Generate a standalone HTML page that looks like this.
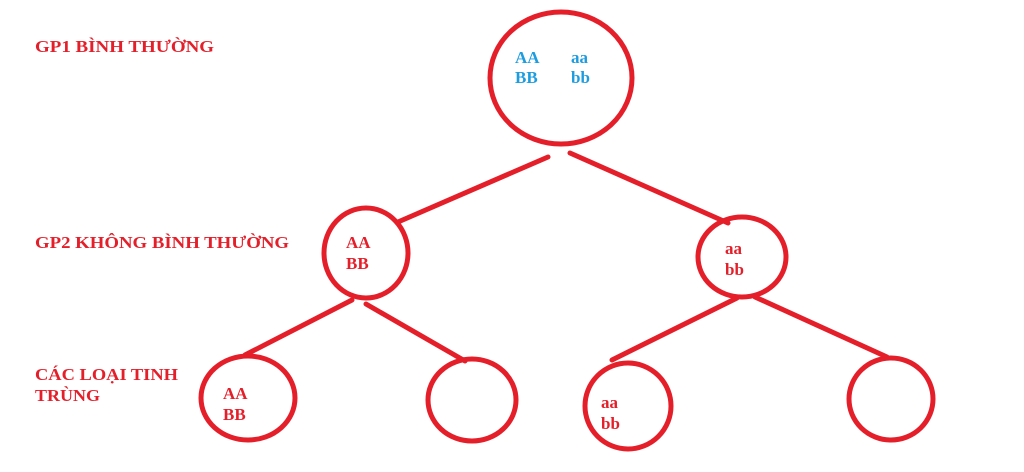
<!DOCTYPE html>
<html><head><meta charset="utf-8"><style>
html,body{margin:0;padding:0;background:#fff;width:1024px;height:472px;overflow:hidden}
text{font-family:"Liberation Serif",serif;font-weight:bold;font-size:17px}
</style></head><body>
<svg width="1024" height="472" viewBox="0 0 1024 472" xmlns="http://www.w3.org/2000/svg">
<g fill="none" stroke="#e41f2a" stroke-width="5" stroke-linecap="round">
<ellipse cx="561" cy="78" rx="71" ry="66"/>
<ellipse cx="366" cy="253" rx="42" ry="45"/>
<ellipse cx="742" cy="257" rx="44" ry="40"/>
<ellipse cx="248" cy="398" rx="47" ry="42"/>
<ellipse cx="472" cy="400" rx="44" ry="41"/>
<ellipse cx="628" cy="406" rx="43" ry="43"/>
<ellipse cx="891" cy="399" rx="42" ry="41"/>
<line x1="548" y1="157" x2="398" y2="222"/>
<line x1="570" y1="153" x2="728" y2="223"/>
<line x1="352" y1="300" x2="245" y2="355"/>
<line x1="366" y1="304" x2="465" y2="361"/>
<line x1="737" y1="298" x2="612" y2="360"/>
<line x1="755" y1="297" x2="887" y2="357"/>
</g>
<g fill="#e41f2a">
<text x="35" y="52" textLength="179" lengthAdjust="spacingAndGlyphs">GP1  BÌNH THƯỜNG</text>
<text x="35" y="248" textLength="254" lengthAdjust="spacingAndGlyphs">GP2 KHÔNG BÌNH THƯỜNG</text>
<text x="35" y="380" textLength="143" lengthAdjust="spacingAndGlyphs">CÁC LOẠI TINH</text>
<text x="35" y="401" textLength="65" lengthAdjust="spacingAndGlyphs">TRÙNG</text>
<text x="346" y="248" font-size="17">AA</text><text x="346" y="269">BB</text>
<text x="725" y="254">aa</text><text x="725" y="275">bb</text>
<text x="223" y="399">AA</text><text x="223" y="420">BB</text>
<text x="601" y="408">aa</text><text x="601" y="429">bb</text>
</g>
<g fill="#1d9de0">
<text x="515" y="63">AA</text><text x="515" y="83">BB</text>
<text x="571" y="63">aa</text><text x="571" y="83">bb</text>
</g>
</svg>
</body></html>
